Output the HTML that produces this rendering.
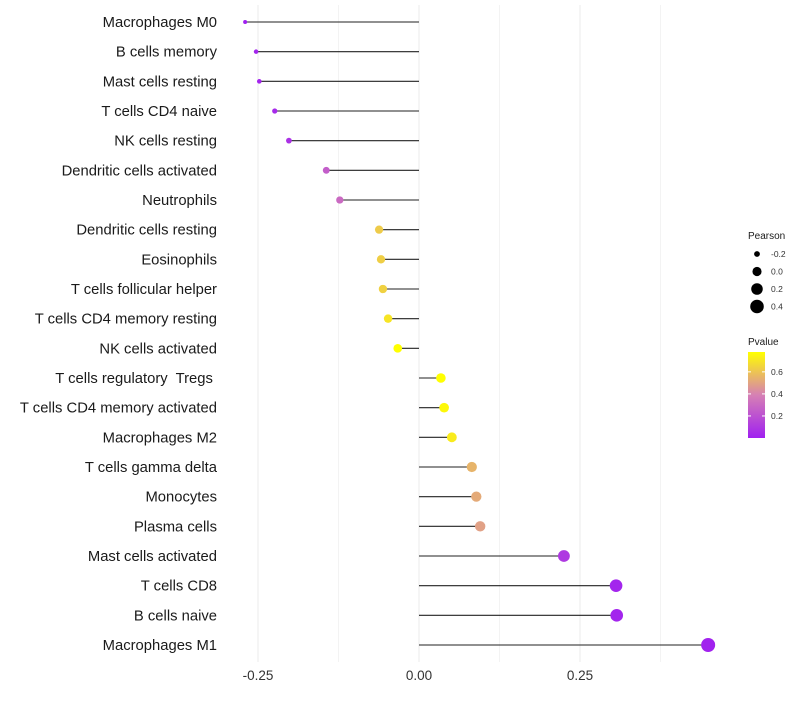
<!DOCTYPE html>
<html><head><meta charset="utf-8"><style>
body{margin:0;background:#fff;font-family:"Liberation Sans",sans-serif}
</style></head><body>
<svg id="c" width="800" height="700" xmlns="http://www.w3.org/2000/svg" font-family="Liberation Sans, sans-serif"></svg>
<script>
const categories=["Macrophages M0","B cells memory","Mast cells resting","T cells CD4 naive","NK cells resting","Dendritic cells activated","Neutrophils","Dendritic cells resting","Eosinophils","T cells follicular helper","T cells CD4 memory resting","NK cells activated","T cells regulatory\u00a0 Tregs\u00a0","T cells CD4 memory activated","Macrophages M2","T cells gamma delta","Monocytes","Plasma cells","Mast cells activated","T cells CD8","B cells naive","Macrophages M1"];
const pearson=[-0.270,-0.253,-0.248,-0.224,-0.202,-0.144,-0.123,-0.062,-0.059,-0.056,-0.048,-0.033,0.034,0.039,0.051,0.082,0.089,0.095,0.225,0.306,0.307,0.449];
const pvalues=[0.0,0.02,0.02,0.04,0.07,0.25,0.30,0.62,0.63,0.64,0.70,0.78,0.78,0.76,0.72,0.55,0.52,0.49,0.10,0.02,0.02,0.01];
const xTicks=[-0.25,0,0.25];
const xTickLabels=["-0.25","0.00","0.25"];
const sizeLegend=[-0.2,0.0,0.2,0.4];
const colorTicks=[0.2,0.4,0.6];
const NS="http://www.w3.org/2000/svg",svg=document.getElementById('c');
function mk(t,a,p){const e=document.createElementNS(NS,t);for(const k in a)e.setAttribute(k,a[k]);(p||svg).appendChild(e);return e;}
const x=v=>419+v*644;
const y=i=>22+i*(623/21);
const rad=v=>Math.sqrt(4+(v+0.27)/0.719*45);
function col(p){const t=Math.max(0,Math.min(1,p/0.78));const s=[[0,[160,32,240]],[0.5,[214,128,180]],[1,[255,255,0]]];
let a=s[0],b=s[1];if(t>0.5){a=s[1];b=s[2];}const u=(t-a[0])/(b[0]-a[0]);
return 'rgb('+a[1].map((c,k)=>Math.round(c+(b[1][k]-c)*u)).join(',')+')';}
[-0.25,-0.125,0,0.125,0.25,0.375].forEach(v=>{const l=mk('line',{x1:x(v),x2:x(v),y1:5,y2:662,stroke:'#ebebeb','stroke-width':v*8%2==0?1:0.6});
});
categories.forEach((c,i)=>{
const t=mk('text',{x:217,y:y(i)+5,'text-anchor':'end','font-size':14.8,fill:'#1a1a1a'});t.textContent=c;

const l=mk('line',{x1:x(0),x2:x(pearson[i]),y1:y(i),y2:y(i),stroke:'#222','stroke-width':1.1});

const d=mk('circle',{cx:x(pearson[i]),cy:y(i),r:rad(pearson[i]),fill:col(pvalues[i])});

});
xTicks.forEach((v,i)=>{const t=mk('text',{x:x(v),y:680,'text-anchor':'middle','font-size':13.5,fill:'#333'});t.textContent=xTickLabels[i];
});
let t=mk('text',{x:748,y:239,'font-size':10,fill:'#1a1a1a'});t.textContent='Pearson';

sizeLegend.forEach((v,i)=>{const cy=254+i*17.5;const c=mk('circle',{cx:757,cy:cy,r:rad(v),fill:'#000'});

const s=mk('text',{x:771,y:cy+3,'font-size':8.5,fill:'#333'});s.textContent=v.toFixed(1);
});
t=mk('text',{x:748,y:345,'font-size':10,fill:'#1a1a1a'});t.textContent='Pvalue';

const defs=mk('defs',{});const g=mk('linearGradient',{id:'gr',x1:0,y1:1,x2:0,y2:0},defs);
[0,0.25,0.5,0.75,1].forEach(f=>mk('stop',{offset:f,'stop-color':col(f*0.78)},g));
const r=mk('rect',{x:748,y:352,width:17,height:86,fill:'url(#gr)'});

const cy=v=>438-v/0.78*86;
colorTicks.forEach(v=>{mk('line',{x1:748,x2:751,y1:cy(v),y2:cy(v),stroke:'#fff'});mk('line',{x1:762,x2:765,y1:cy(v),y2:cy(v),stroke:'#fff'});
const s=mk('text',{x:771,y:cy(v)+3,'font-size':8.5,fill:'#333'});s.textContent=v.toFixed(1);
});
</script>
</body></html>
